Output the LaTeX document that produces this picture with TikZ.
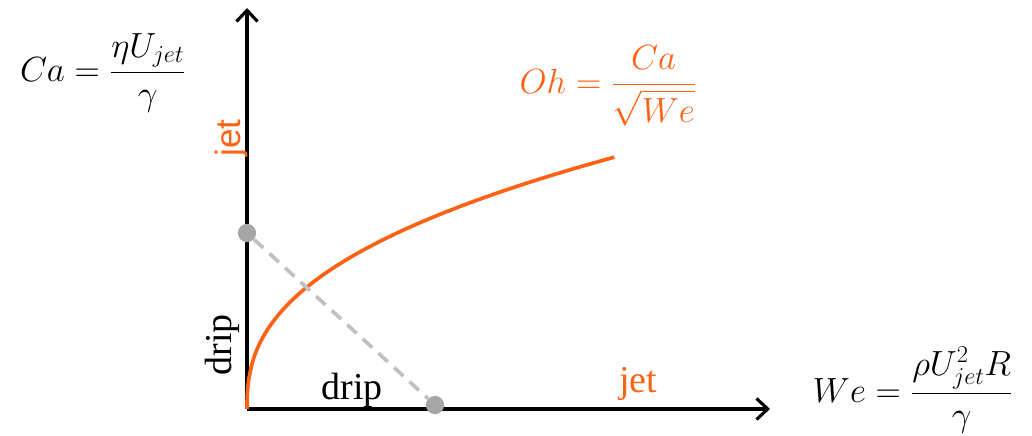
\documentclass[tikz,border=0pt]{standalone}
\usepackage{amsmath}
\usepackage{fontspec}
\setmainfont{Liberation Serif}
\newfontfamily\arialfont{Liberation Sans}
\usetikzlibrary{arrows.meta, positioning}

\definecolor{jetorange}{RGB}{255,98,20}
\definecolor{dotgray}{RGB}{166,166,166}
\definecolor{dashgray}{RGB}{192,192,192}

\tikzset{
    axisline/.style={line width=2.2pt, -{Straight Barb[length=8pt, width=15pt]}},
    ohcurve/.style={jetorange, line width=2.6pt},
    regimeline/.style={dashgray, line width=2.6pt, dash pattern=on 9pt off 6pt},
    regimedot/.style={circle, fill=dotgray, inner sep=0pt, minimum size=13pt},
    bigtext/.style={font=\fontsize{27}{31}\selectfont},
    mathtext/.style={font=\fontsize{27}{31}\selectfont}
}

\begin{document}
\begin{tikzpicture}[x=0.025cm, y=0.025cm]
    \useasboundingbox (0,0) rectangle (1032,435);

    % =================================================================
    % AXES
    % =================================================================
    \coordinate (O) at (247,26);
    \coordinate (Ytop) at (247,427);
    \coordinate (Xend) at (770,26);

    \draw[axisline] (O) -- (Ytop);
    \draw[axisline] (O) -- (Xend);

    % Axis formulas
    \node[mathtext] (ca) at (103,362) {$Ca=\dfrac{\eta U_{jet}}{\gamma}$};
    \node[mathtext, anchor=west] (we) at (808,45) {$We=\dfrac{\rho U_{jet}^{2}R}{\gamma}$};

    % =================================================================
    % CURVE Oh = const  (y ~ x^0.4, sampled along y)
    % =================================================================
    \draw[ohcurve] (O) -- plot[smooth, domain=0.001:1, samples=60]
        ({247+368*(\x)^2.5}, {26+252*\x});
    \node[mathtext, text=jetorange] (oh) at (608,349) {$Oh=\dfrac{Ca}{\sqrt{We}}$};

    % =================================================================
    % DRIP / JET TRANSITION
    % =================================================================
    \node[regimedot] (dotca) at (247,202) {};
    \node[regimedot] (dotwe) at (435,30) {};
    \draw[regimeline] (dotca) -- (dotwe);

    % Regime labels
    \node[rotate=90, text=jetorange, font=\arialfont\fontsize{25}{29}\selectfont] (jety) at (231,297) {jet};
    \node[bigtext, rotate=90] (dripy) at (222,90) {drip};
    \node[bigtext, anchor=base] (dripx) at (352,36) {drip};
    \node[bigtext, anchor=base, text=jetorange] (jetx) at (638,43) {jet};
\end{tikzpicture}
\end{document}
